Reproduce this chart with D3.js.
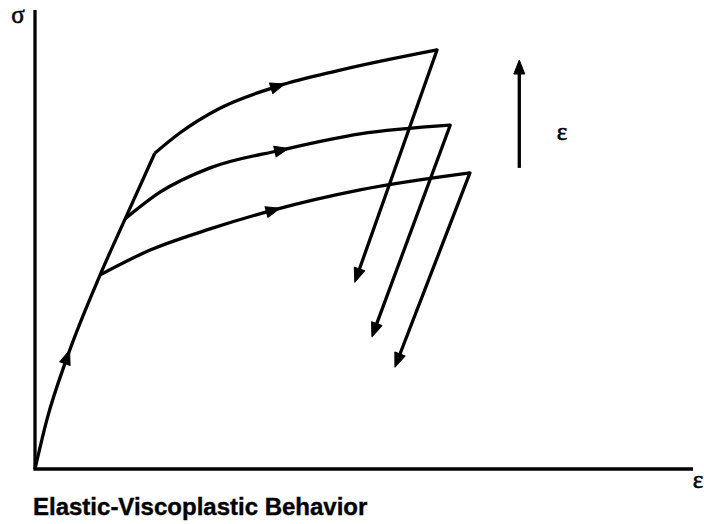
<!DOCTYPE html>
<html>
<head>
<meta charset="utf-8">
<script src="https://cdn.jsdelivr.net/npm/d3@7"></script>
<style>
  body { margin: 0; background: #fff; }
</style>
</head>
<body>
<script>
var width = 704;
var height = 524;

// strain (x) and stress (y), both in arbitrary units 0..100
var elasticX = [0, 1.8, 4.9, 9.9, 13.7, 18.2];
var elasticY = [0, 10.7, 24.4, 42.3, 54.5, 68.8];

var topX = [18.2, 22.0, 28.1, 36.9, 46.4, 61.1];
var topY = [68.8, 73.2, 78.6, 83.4, 86.9, 91.3];

var midX = [13.7, 19.0, 26.6, 37.5, 49.4, 63.1];
var midY = [54.5, 60.3, 65.6, 69.5, 73.0, 74.9];

var lowX = [9.9, 17.5, 26.6, 36.2, 49.4, 66.1];
var lowY = [42.3, 47.7, 52.3, 56.4, 60.8, 64.5];

// unloading end points (arrow tips)
var unloadX = [48.6, 51.2, 54.7];
var unloadY = [40.7, 28.8, 22.2];

// where the direction arrows sit on each loading curve (strain value)
var arrowAtX = [4.9, 36.9, 37.5, 36.2];

// strain-rate arrow
var rateX = 73.6;
var rateY = [65.6, 89.1];

var caption = 'Elastic-Viscoplastic Behavior';

var svg = d3.select('body')
            .append('svg')
            .attr('width', width)
            .attr('height', height);

var xScale = d3.scaleLinear().domain([0, 100]).range([35, 693]);
var yScale = d3.scaleLinear().domain([0, 100]).range([469, 10]);

var line = d3.line()
             .x(function (d) { return xScale(d[0]); })
             .y(function (d) { return yScale(d[1]); })
             .curve(d3.curveMonotoneX);

function pairs(xs, ys) {
  return xs.map(function (x, i) { return [x, ys[i]]; });
}

var curves = [
  pairs(elasticX, elasticY),
  pairs(topX, topY),
  pairs(midX, midY),
  pairs(lowX, lowY)
];

var sw = 3.3;

// axes
svg.append('line')
   .attr('x1', xScale(0)).attr('y1', yScale(0))
   .attr('x2', xScale(0)).attr('y2', yScale(100))
   .attr('stroke', '#000').attr('stroke-width', sw);
svg.append('line')
   .attr('x1', xScale(0) - 1.6).attr('y1', yScale(0))
   .attr('x2', xScale(100)).attr('y2', yScale(0))
   .attr('stroke', '#000').attr('stroke-width', sw);

var paths = svg.selectAll('.curve')
               .data(curves)
               .enter()
               .append('path')
               .attr('class', 'curve')
               .attr('d', line)
               .attr('fill', 'none')
               .attr('stroke', '#000')
               .attr('stroke-width', sw)
               .attr('stroke-linejoin', 'round');

function arrowHead(x, y, angle, len, half) {
  var p = 'M' + len + ',0L0,' + (-half) + 'L0,' + half + 'Z';
  svg.append('path')
     .attr('d', p)
     .attr('fill', '#000')
     .attr('stroke', '#000')
     .attr('stroke-width', 1)
     .attr('stroke-linejoin', 'round')
     .attr('transform', 'translate(' + x + ',' + y + ') rotate(' + (angle * 180 / Math.PI) + ') translate(' + (-len / 2) + ',0)');
}

// direction arrows on loading curves
paths.each(function (d, i) {
  var node = this;
  var total = node.getTotalLength();
  var target = xScale(arrowAtX[i]);
  var lo = 0, hi = total;
  for (var k = 0; k < 40; k++) {
    var m = (lo + hi) / 2;
    if (node.getPointAtLength(m).x < target) lo = m; else hi = m;
  }
  var p = node.getPointAtLength(lo);
  var a = node.getPointAtLength(Math.max(0, lo - 3));
  var b = node.getPointAtLength(Math.min(total, lo + 3));
  arrowHead(p.x, p.y, Math.atan2(b.y - a.y, b.x - a.x), 14, 5.5);
});

// unloading lines
var starts = [curves[1], curves[2], curves[3]].map(function (c) { return c[c.length - 1]; });
starts.forEach(function (s, i) {
  var x1 = xScale(s[0]), y1 = yScale(s[1]);
  var x2 = xScale(unloadX[i]), y2 = yScale(unloadY[i]);
  var ang = Math.atan2(y2 - y1, x2 - x1);
  svg.append('line')
     .attr('x1', x1).attr('y1', y1)
     .attr('x2', x2 - 10 * Math.cos(ang)).attr('y2', y2 - 10 * Math.sin(ang))
     .attr('stroke', '#000').attr('stroke-width', sw)
     .attr('stroke-linecap', 'round');
  arrowHead(x2 - 7 * Math.cos(ang), y2 - 7 * Math.sin(ang), ang, 14, 5.5);
});

// strain rate arrow
svg.append('line')
   .attr('x1', xScale(rateX)).attr('y1', yScale(rateY[0]))
   .attr('x2', xScale(rateX)).attr('y2', yScale(rateY[1]) + 10)
   .attr('stroke', '#000').attr('stroke-width', sw);
arrowHead(xScale(rateX), yScale(rateY[1]) + 7, -Math.PI / 2, 14, 5.5);

// labels
function symbol(x, y, t) {
  svg.append('text')
     .attr('x', x).attr('y', y)
     .attr('text-anchor', 'middle')
     .attr('font-family', 'Liberation Serif, Times New Roman, serif')
     .attr('font-size', 25)
     .attr('stroke', '#000')
     .attr('stroke-width', 0.6)
     .text(t);
}
symbol(18, 23, 'σ');
symbol(698, 488, 'ε');
symbol(xScale(80.1), 140, 'ε');

svg.append('text')
   .attr('x', 33).attr('y', 515)
   .attr('font-family', 'Liberation Sans, Arial, Helvetica, sans-serif')
   .attr('font-weight', 'bold')
   .attr('font-size', 24)
   .attr('stroke', '#000')
   .attr('stroke-width', 0.4)
   .text(caption);
</script>
</body>
</html>
